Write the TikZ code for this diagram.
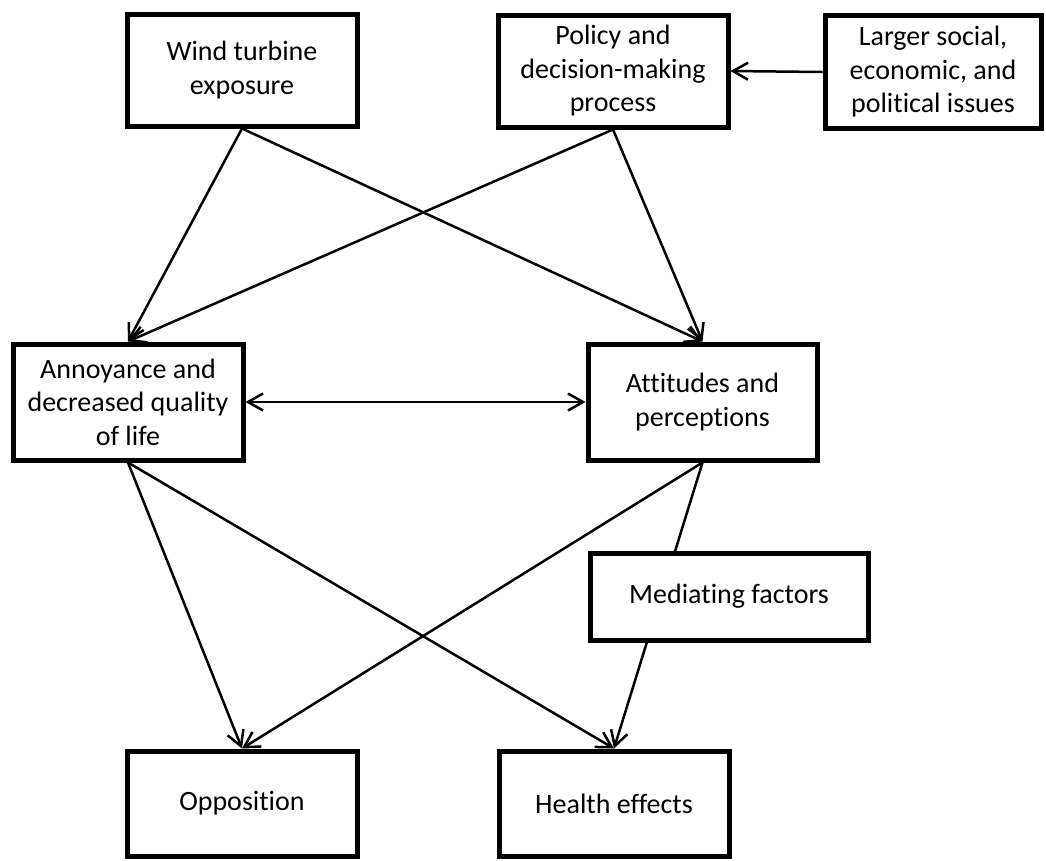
\documentclass[tikz,border=0pt]{standalone}
\usepackage{fontspec}
\setmainfont{Carlito}[Ligatures={NoCommon}]
\usetikzlibrary{arrows.meta,calc}
\begin{document}
\begin{tikzpicture}[x=1pt,y=-1pt,
  box/.style={draw,line width=5pt,rectangle,inner sep=0pt,align=center,
    font=\fontsize{28}{33.5}\selectfont,fill=white},
  barb/.tip={Straight Barb[length=15pt,width=17pt,line width=2.5pt]},
  conn/.style={line width=2.5pt,-barb},
  both/.style={line width=2.5pt,barb-barb},
  plain/.style={line width=2.5pt}]
\useasboundingbox[fill=white] (0,0) rectangle (1046,860);
\node[box,minimum width=230pt,minimum height=112pt] (wind) at (242,70) {Wind turbine\\exposure};
\node[box,minimum width=230pt,minimum height=112pt] (pol) at (613,71) {Policy and\\decision-making\\process};
\node[box,minimum width=216pt,minimum height=113pt] (lar) at (933,72) {Larger social,\\economic, and\\political issues};
\node[box,minimum width=230pt,minimum height=116pt] (ann) at (128,402) {Annoyance and\\decreased quality\\of life};
\node[box,minimum width=229pt,minimum height=116pt] (att) at (702.5,402) {Attitudes and\\perceptions};
\node[box,minimum width=230pt,minimum height=105pt] (opp) at (242,803.5) {Opposition};
\node[box,minimum width=230pt,minimum height=105pt] (hea) at (614,803.5) {Health effects};
\coordinate (m1) at ($(att.south)!0.317!(hea.north)$);
\coordinate (m2) at ($(att.south)!0.614!(hea.north)$);
\draw[conn] (lar.west) -- (pol.east);
\draw[conn] (wind.south) -- (ann.north);
\draw[conn] (wind.south) -- (att.north);
\draw[conn] (pol.south) -- (ann.north);
\draw[conn] (pol.south) -- (att.north);
\draw[both] (ann.east) -- (att.west);
\draw[conn] (ann.south) -- (opp.north);
\draw[conn] (ann.south) -- (hea.north);
\draw[conn] (att.south) -- (opp.north);
\draw[plain] (att.south) -- (m1);
\draw[conn] (m2) -- (hea.north);
\node[box,minimum width=278pt,minimum height=87pt] (med) at (729,596.5) {Mediating factors};
\end{tikzpicture}
\end{document}
